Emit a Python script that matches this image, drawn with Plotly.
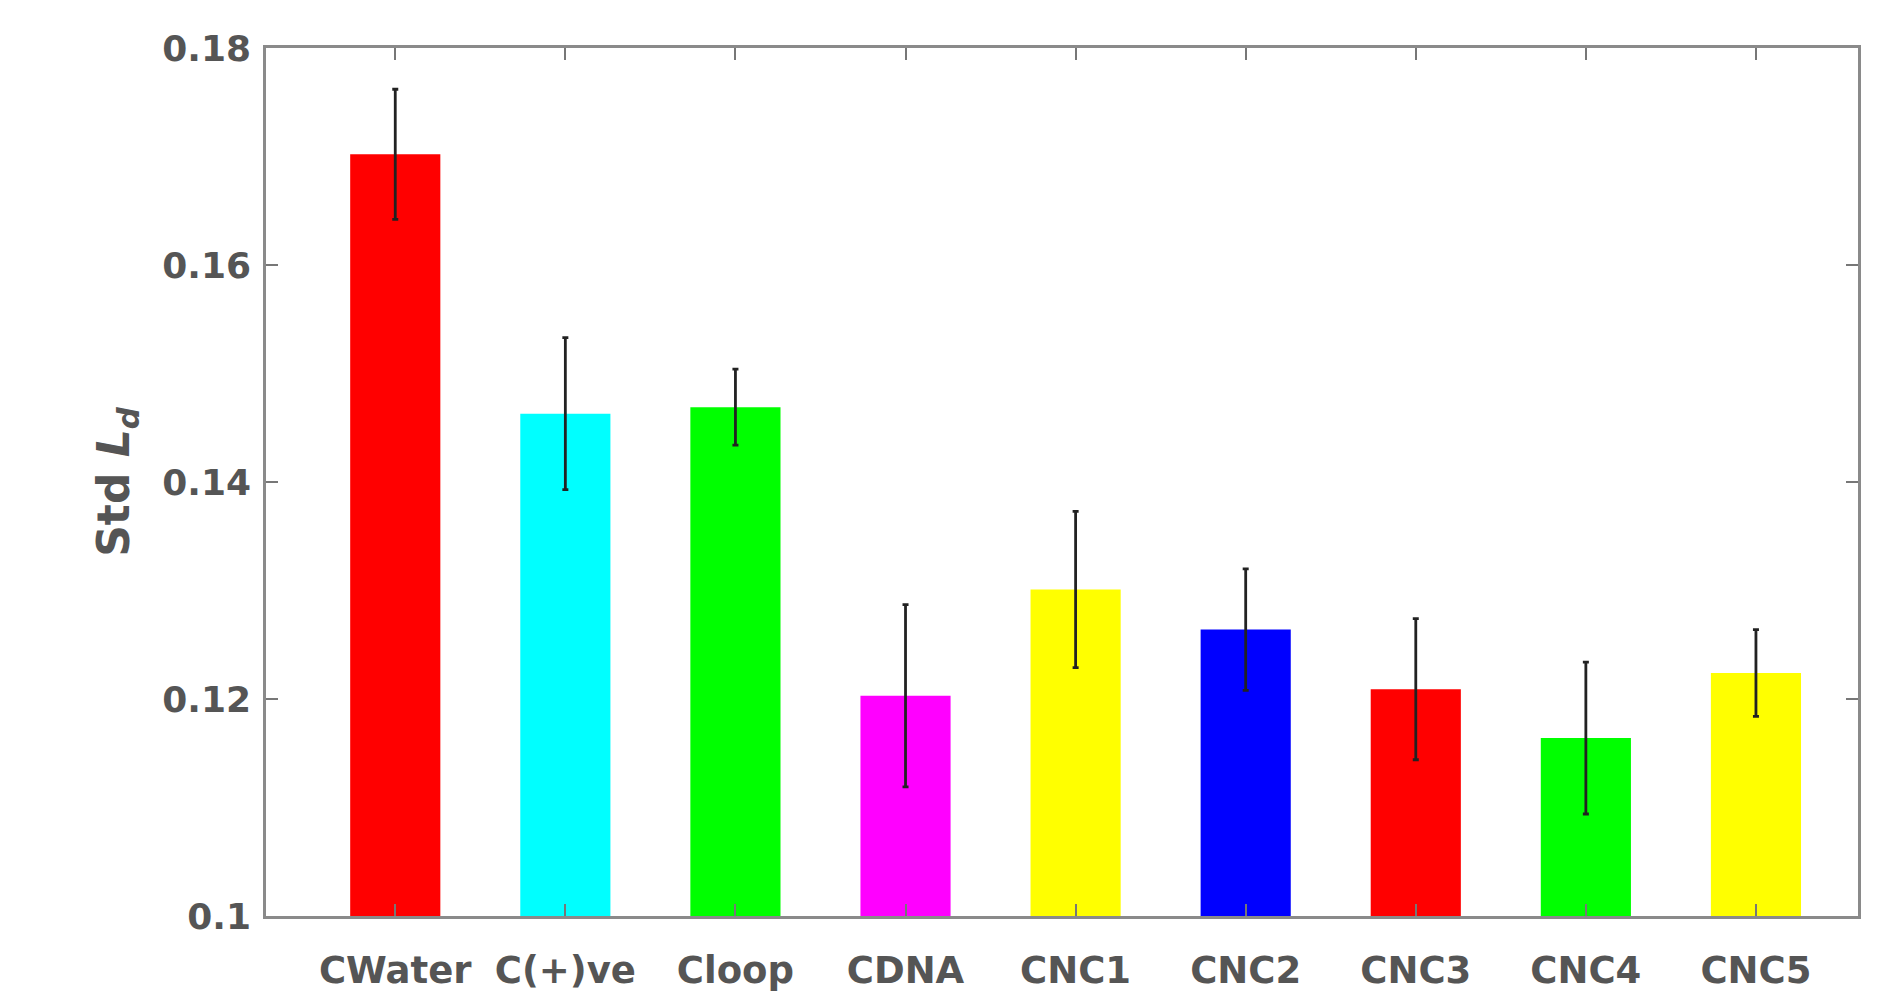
import plotly.graph_objects as go

categories = ["CWater", "C(+)ve", "Cloop", "CDNA", "CNC1", "CNC2", "CNC3", "CNC4", "CNC5"]
values = [0.1702, 0.1463, 0.1469, 0.1203, 0.1301, 0.1264, 0.1209, 0.1164, 0.1224]
errors = [0.0060, 0.0070, 0.0035, 0.0084, 0.0072, 0.0056, 0.0065, 0.0070, 0.0040]
colors = ["#FF0000", "#00FFFF", "#00FF00", "#FF00FF", "#FFFF00", "#0000FF", "#FF0000", "#00FF00", "#FFFF00"]
y_ticks = [0.1, 0.12, 0.14, 0.16, 0.18]
y_ticklabels = ["0.1", "0.12", "0.14", "0.16", "0.18"]

xpos = list(range(1, len(categories) + 1))

FONT = "DejaVu Sans, Liberation Sans, Arial, sans-serif"

fig = go.Figure()
fig.add_trace(go.Bar(
    x=xpos, y=values,
    width=0.53,
    marker=dict(color=colors, line=dict(width=0)),
    error_y=dict(type="data", array=errors, visible=True, color="#222222", thickness=2.8, width=3),
    showlegend=False,
))

fig.update_layout(
    width=1898, height=993,
    margin=dict(l=266, r=40, t=48, b=77),
    plot_bgcolor="white", paper_bgcolor="white",
    xaxis=dict(
        range=[0.24, 9.6], automargin=False,
        tickmode="array", tickvals=xpos, ticktext=categories,
        ticks="inside", ticklen=12, tickwidth=1.5, tickcolor="#777777",
        showline=True, linecolor="#8a8a8a", linewidth=2.5, mirror="ticks",
        showgrid=False, zeroline=False,
        tickfont=dict(family=FONT, size=37, color="#555555", weight="bold"),
        ticklabelstandoff=20,
    ),
    yaxis=dict(
        range=[0.1, 0.18], automargin=False,
        tickmode="array", tickvals=y_ticks, ticktext=y_ticklabels,
        ticks="inside", ticklen=12, tickwidth=1.5, tickcolor="#777777",
        showline=True, linecolor="#8a8a8a", linewidth=2.5, mirror="ticks",
        showgrid=False, zeroline=False,
        tickfont=dict(family=FONT, size=36, color="#555555", weight="bold"),
        ticklabelstandoff=5,
        title=dict(text="Std <i>L</i><sub><i>d</i></sub>",
                   font=dict(family=FONT, size=44, color="#555555", weight="bold"),
                   standoff=19),
    ),
)

fig.write_html("out.html")
